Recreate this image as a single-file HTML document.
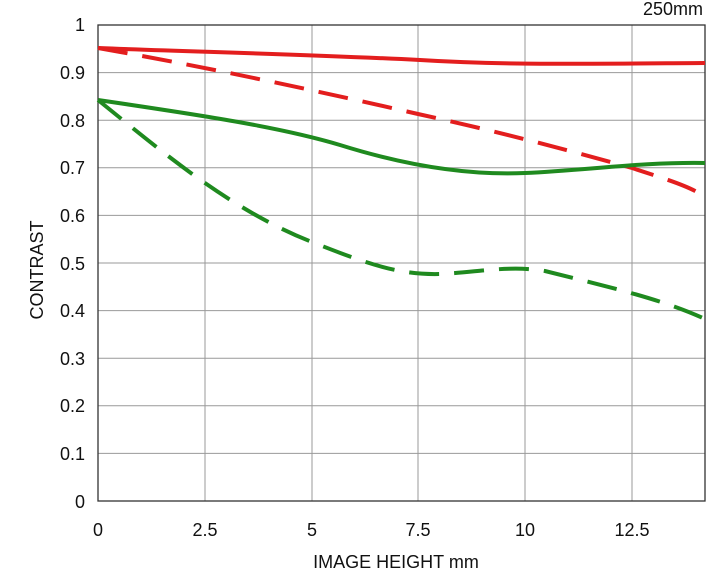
<!DOCTYPE html>
<html><head><style>body{margin:0;background:#fff}svg{display:block}text{font-family:"Liberation Sans",sans-serif;fill:#111}</style></head><body>
<svg width="720" height="570" viewBox="0 0 720 570" xmlns="http://www.w3.org/2000/svg">
<g stroke="#999" stroke-width="1">
<line x1="98" y1="72.6" x2="705" y2="72.6"/><line x1="98" y1="120.2" x2="705" y2="120.2"/><line x1="98" y1="167.8" x2="705" y2="167.8"/><line x1="98" y1="215.4" x2="705" y2="215.4"/><line x1="98" y1="263" x2="705" y2="263"/><line x1="98" y1="310.6" x2="705" y2="310.6"/><line x1="98" y1="358.2" x2="705" y2="358.2"/><line x1="98" y1="405.8" x2="705" y2="405.8"/><line x1="98" y1="453.4" x2="705" y2="453.4"/>
<line x1="205" y1="25" x2="205" y2="501"/><line x1="312" y1="25" x2="312" y2="501"/><line x1="418" y1="25" x2="418" y2="501"/><line x1="525" y1="25" x2="525" y2="501"/><line x1="632" y1="25" x2="632" y2="501"/>
</g>
<rect x="98" y="25" width="607" height="476" fill="none" stroke="#333" stroke-width="1.3"/>
<g font-size="18" text-anchor="end">
<text x="85" y="31">1</text><text x="85" y="79">0.9</text><text x="85" y="127">0.8</text><text x="85" y="174">0.7</text><text x="85" y="222">0.6</text><text x="85" y="270">0.5</text><text x="85" y="317">0.4</text><text x="85" y="365">0.3</text><text x="85" y="412">0.2</text><text x="85" y="460">0.1</text><text x="85" y="508">0</text>
</g>
<g font-size="18" text-anchor="middle">
<text x="98" y="536">0</text><text x="205" y="536">2.5</text><text x="312" y="536">5</text><text x="418" y="536">7.5</text><text x="525" y="536">10</text><text x="632" y="536">12.5</text>
<text x="396" y="568">IMAGE HEIGHT   mm</text>
</g>
<text x="703" y="15" font-size="18" text-anchor="end">250mm</text>
<text transform="translate(43,270) rotate(-90)" font-size="18" text-anchor="middle">CONTRAST</text>
<g fill="none" stroke-width="4" stroke-linecap="butt">
<path stroke="#e31e1e" d="M98,48 C200,52 300,54 420,60 C500,65 560,64 705,63"/>
<path stroke="#e31e1e" stroke-dasharray="30,15" d="M98,48 C200,66 300,87 418,114 C500,132 560,148 632,168 C665,179 690,186 705,197"/>
<path stroke="#1f8a1f" d="M98,100 C200,115 280,127 340,145 C420,170 480,175 525,173 C590,170 640,162 705,163"/>
<path stroke="#1f8a1f" stroke-dasharray="30,15" d="M98,100 C160,150 230,210 312,242 C370,265 400,275 440,274 C480,272 510,265 545,271 C600,285 660,298 705,319"/>
</g>
</svg>
</body></html>
